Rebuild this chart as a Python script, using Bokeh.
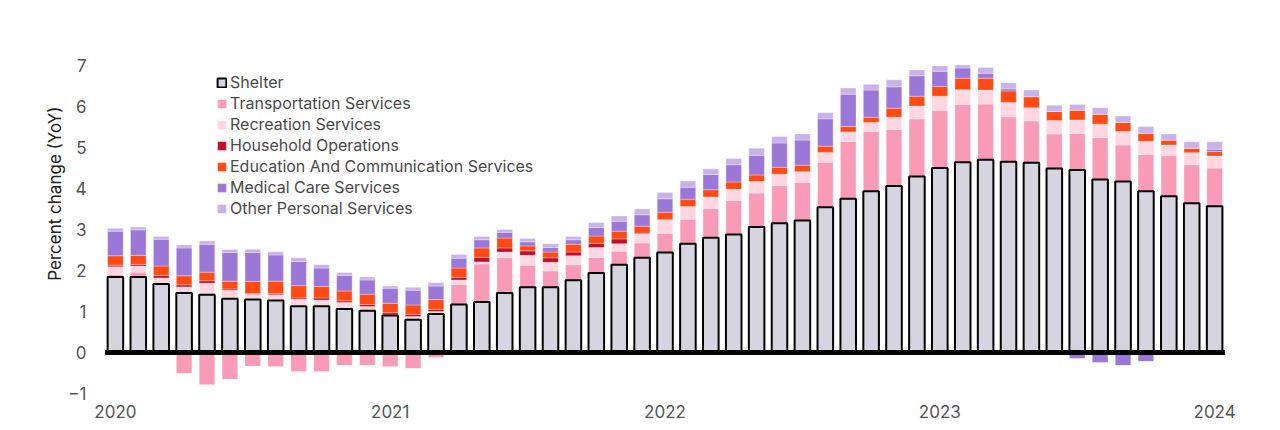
from bokeh.plotting import figure
from bokeh.models import ColumnDataSource, FixedTicker, Legend, LegendItem, Title
from bokeh.transform import stack
from bokeh.embed import file_html
from bokeh.resources import INLINE

# Monthly YoY contributions, Jan 2020 .. Jan 2024
shelter = [1.84, 1.84, 1.67, 1.45, 1.41, 1.31, 1.29, 1.27, 1.13, 1.13, 1.06, 1.02,
           0.90, 0.80, 0.94, 1.17, 1.23, 1.45, 1.59, 1.59, 1.76, 1.94, 2.14, 2.31,
           2.44, 2.65, 2.80, 2.88, 3.06, 3.15, 3.22, 3.54, 3.75, 3.93, 4.06, 4.29,
           4.50, 4.64, 4.70, 4.65, 4.63, 4.49, 4.45, 4.22, 4.17, 3.93, 3.81, 3.64,
           3.57]
transportation = [0.06, 0.12, -0.02, -0.52, -0.80, -0.66, -0.34, -0.36, -0.48, -0.48, -0.32, -0.32,
                  -0.36, -0.40, -0.14, 0.49, 0.93, 0.86, 0.54, 0.40, 0.38, 0.38, 0.33, 0.36,
                  0.47, 0.60, 0.71, 0.83, 0.83, 0.92, 0.93, 1.10, 1.40, 1.46, 1.38, 1.41,
                  1.41, 1.41, 1.36, 1.10, 1.02, 0.84, 0.89, 1.02, 0.89, 0.90, 0.99, 0.94,
                  0.93]
recreation = [0.19, 0.15, 0.15, 0.15, 0.28, 0.21, 0.13, 0.14, 0.17, 0.15, 0.16, 0.10,
              0.02, 0.08, 0.06, 0.11, 0.05, 0.14, 0.24, 0.21, 0.22, 0.24, 0.18, 0.22,
              0.33, 0.31, 0.28, 0.27, 0.28, 0.28, 0.26, 0.24, 0.23, 0.22, 0.30, 0.31,
              0.34, 0.36, 0.34, 0.35, 0.32, 0.33, 0.33, 0.33, 0.33, 0.32, 0.26, 0.29,
              0.29]
household = [0.04, 0.04, 0.06, 0.05, 0.06, 0.03, 0.02, 0.03, 0.03, 0.05, 0.04, 0.05,
             0.05, 0.05, 0.05, 0.06, 0.11, 0.10, 0.11, 0.11, 0.09, 0.10, 0.12, 0.02,
             0.0, 0.0, 0.0, 0.0, 0.0, 0.0, 0.0, 0.0, 0.0, 0.0, 0.0, 0.0,
             0.0, 0.0, 0.0, 0.0, 0.0, 0.0, 0.0, 0.0, 0.0, 0.0, 0.0, 0.0,
             0.0]
education = [0.23, 0.22, 0.23, 0.22, 0.21, 0.19, 0.29, 0.30, 0.30, 0.28, 0.24, 0.25,
             0.23, 0.23, 0.24, 0.23, 0.23, 0.24, 0.12, 0.14, 0.19, 0.18, 0.19, 0.17,
             0.18, 0.18, 0.18, 0.18, 0.16, 0.17, 0.16, 0.15, 0.13, 0.13, 0.22, 0.24,
             0.24, 0.28, 0.29, 0.28, 0.27, 0.22, 0.24, 0.24, 0.22, 0.20, 0.12, 0.11,
             0.11]
medical = [0.60, 0.62, 0.65, 0.68, 0.68, 0.70, 0.71, 0.64, 0.59, 0.45, 0.38, 0.35,
           0.37, 0.36, 0.33, 0.24, 0.20, 0.14, 0.10, 0.11, 0.11, 0.21, 0.24, 0.28,
           0.33, 0.29, 0.37, 0.42, 0.48, 0.59, 0.61, 0.67, 0.79, 0.66, 0.52, 0.50,
           0.37, 0.25, 0.12, 0.05, 0.0, -0.05, -0.15, -0.25, -0.32, -0.22, -0.06, 0.0,
           0.06]
other = [0.07, 0.07, 0.07, 0.07, 0.08, 0.07, 0.08, 0.08, 0.09, 0.08, 0.07, 0.07,
         0.05, 0.07, 0.08, 0.09, 0.08, 0.07, 0.08, 0.09, 0.08, 0.12, 0.13, 0.14,
         0.15, 0.15, 0.14, 0.15, 0.17, 0.16, 0.15, 0.15, 0.15, 0.14, 0.17, 0.14,
         0.13, 0.07, 0.14, 0.15, 0.16, 0.15, 0.14, 0.16, 0.16, 0.16, 0.15, 0.16,
         0.18]

series_names = ["Shelter", "Transportation Services", "Recreation Services",
                "Household Operations", "Education And Communication Services",
                "Medical Care Services", "Other Personal Services"]
series_values = [shelter, transportation, recreation, household, education, medical, other]
series_colors = ["#d6d5df", "#f99bb6", "#ffd6e1", "#c0102c", "#ff4a14", "#9b78d8", "#c8b2e9"]

tick_positions = [0, 12, 24, 36, 48]
tick_labels = ["2020", "2021", "2022", "2023", "2024"]
y_label = "Percent change (YoY)"

FONT = "Inter"
TXT = "#555555"

x = list(range(len(shelter)))
data = {"x": x}
keys = [f"s{i}" for i in range(len(series_values))]
for k, vals in zip(keys, series_values):
    data[k + "_pos"] = [max(v, 0.0) for v in vals]
    data[k + "_neg"] = [min(v, 0.0) for v in vals]
src = ColumnDataSource(data)

p = figure(width=1256, height=422, output_backend="svg", toolbar_location=None,
           x_range=(-1.0, 49.13), y_range=(-1.171, 7.488),
           min_border_left=92, min_border_right=16, min_border_top=45, min_border_bottom=22)
p.outline_line_color = None
p.grid.visible = False
p.background_fill_color = "white"

pos_cols = [k + "_pos" for k in keys]
neg_cols = [k + "_neg" for k in keys]
W = 0.68
renderers = {}
# non-shelter segments first, shelter drawn last so its outline stays on top
for i in list(range(1, len(keys))) + [0]:
    is_shelter = (i == 0)
    r = p.vbar(x="x", bottom=stack(*pos_cols[:i]), top=stack(*pos_cols[:i + 1]), width=W,
               source=src, fill_color=series_colors[i],
               line_color="black" if is_shelter else "white",
               line_width=2 if is_shelter else 0.5,
               line_alpha=1.0 if is_shelter else 0.6)
    renderers[i] = r
    p.vbar(x="x", bottom=stack(*neg_cols[:i]), top=stack(*neg_cols[:i + 1]), width=W,
           source=src, fill_color=series_colors[i], line_color="white", line_width=0.5,
           line_alpha=0.6)

# zero baseline
p.segment(x0=x[0] - 0.45, x1=x[-1] + 0.45, y0=0, y1=0, line_color="black", line_width=5)

p.xaxis.ticker = FixedTicker(ticks=tick_positions)
p.xaxis.major_label_overrides = {t: l for t, l in zip(tick_positions, tick_labels)}
p.yaxis.ticker = FixedTicker(ticks=list(range(-1, 8)))
for ax in (p.xaxis[0], p.yaxis[0]):
    ax.axis_line_color = None
    ax.major_tick_line_color = None
    ax.minor_tick_line_color = None
    ax.major_tick_out = 0
    ax.major_tick_in = 0
    ax.major_label_text_font = FONT
    ax.major_label_text_font_size = "17px"
    ax.major_label_text_color = TXT
p.xaxis.major_label_standoff = 4
p.yaxis.major_label_standoff = 6

ytitle = Title(text=y_label, align="right", offset=61, standoff=2,
               text_font=FONT, text_font_size="17px", text_font_style="normal",
               text_color="#222222")
p.add_layout(ytitle, "left")

items = [LegendItem(label=series_names[i], renderers=[renderers[i]]) for i in range(len(keys))]
legend = Legend(items=items, location=(124, 182), orientation="vertical",
                border_line_color=None, background_fill_alpha=0,
                glyph_width=11, glyph_height=11, label_standoff=3,
                padding=0, margin=0, spacing=1, label_height=20,
                label_text_font=FONT, label_text_font_size="16px", label_text_color="#4a4a4a")
p.add_layout(legend, "center")

open("out.html", "w").write(file_html(p, INLINE))
